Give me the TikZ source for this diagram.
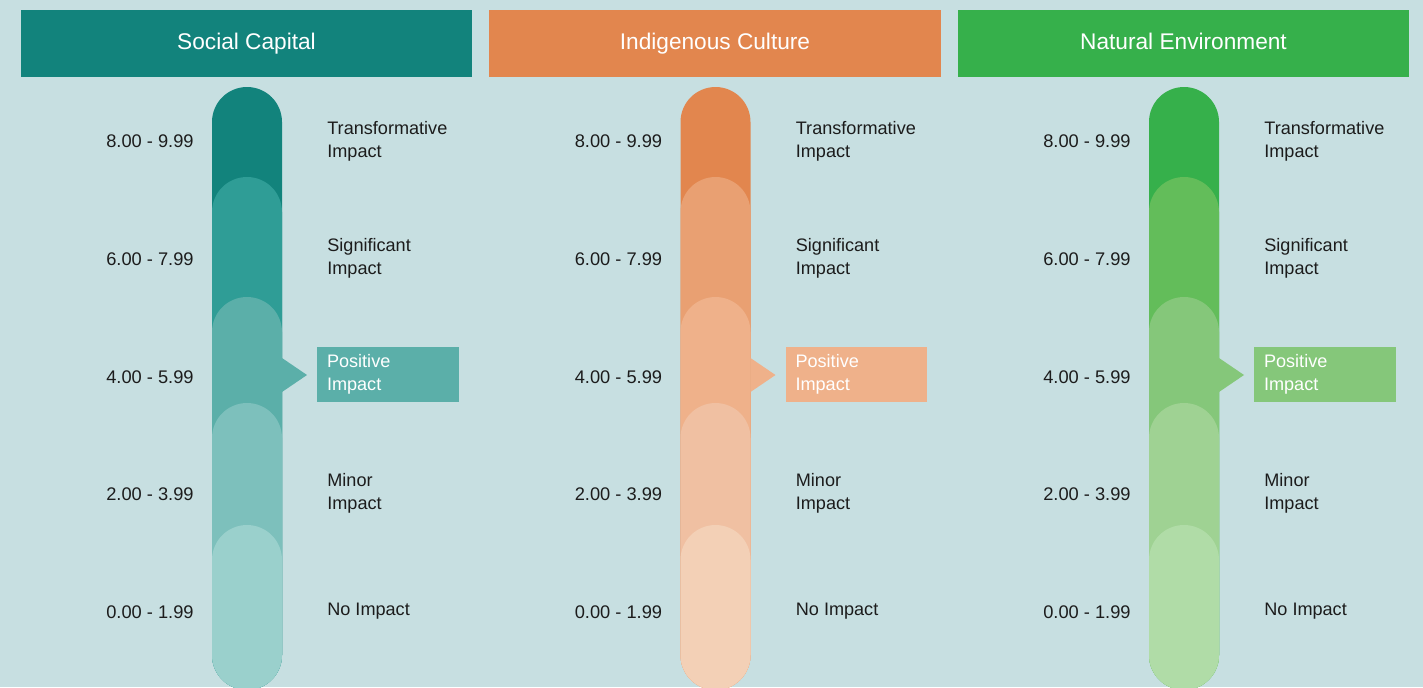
\documentclass[tikz,border=0pt]{standalone}
\usepackage{fontspec}
\setmainfont{Liberation Sans}

% background and text
\definecolor{bg}{HTML}{C7DFE1}
\definecolor{ink}{HTML}{1C1C1C}
% Social Capital shades
\definecolor{sc1}{HTML}{12837C}
\definecolor{sc2}{HTML}{2F9D96}
\definecolor{sc3}{HTML}{5BAFA9}
\definecolor{sc4}{HTML}{7DC0BC}
\definecolor{sc5}{HTML}{9AD0CC}
% Indigenous Culture shades
\definecolor{ic1}{HTML}{E2864E}
\definecolor{ic2}{HTML}{E9A072}
\definecolor{ic3}{HTML}{EFB18A}
\definecolor{ic4}{HTML}{F0C0A2}
\definecolor{ic5}{HTML}{F3D0B6}
% Natural Environment shades
\definecolor{ne1}{HTML}{36B04B}
\definecolor{ne2}{HTML}{63BD5A}
\definecolor{ne3}{HTML}{85C77A}
\definecolor{ne4}{HTML}{9FD293}
\definecolor{ne5}{HTML}{B0DCA7}

\tikzset{
  headbox/.style={minimum width=9.04cm, minimum height=1.34cm, inner sep=0pt,
    text height=0.72em, text depth=0pt,
    text=white, font=\fontsize{12.9}{15}\selectfont},
  rangelabel/.style={anchor=east, inner sep=0pt, text=ink,
    font=\fontsize{10.4}{13.1}\selectfont},
  impactlabel/.style={anchor=west, inner sep=0pt, align=left, text=ink,
    font=\fontsize{10.3}{13.1}\selectfont},
  pointbox/.style={minimum width=2.84cm, minimum height=1.1cm, inner xsep=0.2cm,
    inner ysep=0pt, text width=2.44cm, align=left, text=white,
    font=\fontsize{10.3}{13.1}\selectfont},
  barseg/.style={rounded corners=0.7cm}
}

\begin{document}
\begin{tikzpicture}[x=0.02cm, y=-0.02cm]

  % Background, fixes the page size
  \fill[bg] (0,0) rectangle (1423,687);
  \useasboundingbox (0,0) rectangle (1423,687);

  \foreach \pre/\dx/\title in {sc/0/Social Capital,
                               ic/468.5/Indigenous Culture,
                               ne/937/Natural Environment}{
    \begin{scope}[shift={(\dx,0)}]
      % Header bar
      \node[headbox, fill=\pre1] (head\pre) at (246.5,43.5) {\title};

      % Stacked bar, darkest on top
      \fill[\pre1, barseg] (212,87) rectangle (282,690);
      \fill[\pre2, barseg] (212,177) rectangle (282,690);
      \fill[\pre3, barseg] (212,297) rectangle (282,690);
      \fill[\pre4, barseg] (212,403) rectangle (282,690);
      \fill[\pre5, barseg] (212,525) rectangle (282,690);

      % Score ranges
      \node[rangelabel] (r\pre a) at (194,141) {8.00 - 9.99};
      \node[rangelabel] (r\pre b) at (194,259) {6.00 - 7.99};
      \node[rangelabel] (r\pre c) at (194,377) {4.00 - 5.99};
      \node[rangelabel] (r\pre d) at (194,494) {2.00 - 3.99};
      \node[rangelabel] (r\pre e) at (194,612) {0.00 - 1.99};

      % Impact levels
      \node[impactlabel] (l\pre a) at (327,141) {Transformative\\Impact};
      \node[impactlabel] (l\pre b) at (327,258) {Significant\\Impact};
      \node[impactlabel] (l\pre d) at (327,493) {Minor\\Impact};
      \node[impactlabel] (l\pre e) at (327,611) {No Impact};

      % Highlighted level with pointer
      \node[pointbox, fill=\pre3] (c\pre) at (388,374.5) {Positive\\Impact};
      \coordinate (tip\pre) at (307,375);
      \fill[\pre3] (282,358) -- (tip\pre) -- (282,392) -- cycle;
    \end{scope}
  }

\end{tikzpicture}
\end{document}
